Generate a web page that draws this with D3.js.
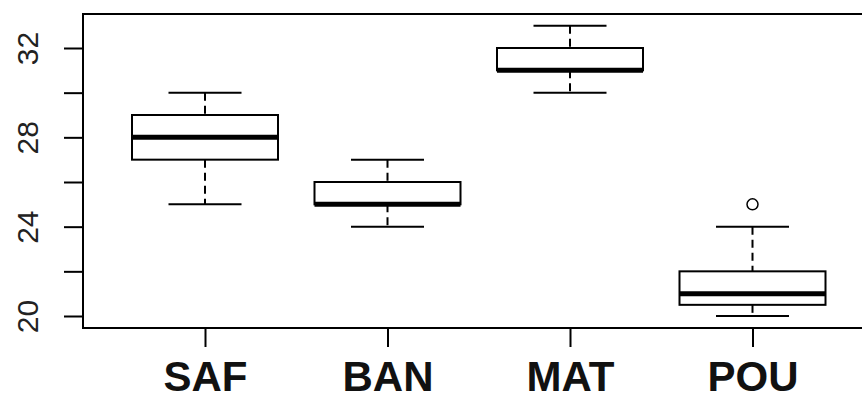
<!DOCTYPE html>
<html>
<head>
<meta charset="utf-8">
<script src="https://cdn.jsdelivr.net/npm/d3@7"></script>
<style>
  body { margin: 0; background: #fff; }
  svg { display: block; }
</style>
</head>
<body>
<svg id="chart" width="862" height="396"></svg>
<script>
// boxplot stats
var groups    = ["SAF", "BAN", "MAT", "POU"];
var whiskLow  = [25, 24, 30, 20];
var boxLow    = [27, 25, 31, 20.5];
var medians   = [28, 25, 31, 21];
var boxHigh   = [29, 26, 32, 22];
var whiskHigh = [30, 27, 33, 24];
var outliers  = [[], [], [], [25]];
var yTicks    = [20, 22, 24, 26, 28, 30, 32];
var yLabels   = [20, 24, 28, 32];

var svg = d3.select("#chart");
var plotL = 83, plotT = 14, plotB = 328, plotR = 900;

// position 1 sits at x=205, position 4 at 752.5
var x = d3.scaleLinear()
	.domain([1, 4])
	.range([205, 752.5]);
var y = d3.scaleLinear()
	.domain([20, 32])
	.range([316, 48]);

var boxHalf = 0.4 * (x(2) - x(1));
var capHalf = boxHalf / 2;

var data = groups.map(function(g, i){
	return {name: g, pos: i + 1, lo: whiskLow[i], q1: boxLow[i], med: medians[i],
		q3: boxHigh[i], hi: whiskHigh[i], out: outliers[i]};
});

// frame
svg.append("rect")
	.attr("x", plotL).attr("y", plotT)
	.attr("width", plotR - plotL).attr("height", plotB - plotT)
	.attr("fill", "none").attr("stroke", "#000").attr("stroke-width", 2);

// axes
var yAxis = svg.append("g")
	.attr("transform", "translate(" + plotL + ",0)")
	.call(d3.axisLeft(y).tickValues(yTicks).tickSize(19)
		.tickFormat(function(d){ return yLabels.indexOf(d) >= 0 ? d : ""; }));
yAxis.select(".domain").remove();
yAxis.selectAll(".tick line").attr("stroke-width", 2);
yAxis.selectAll(".tick text")
	.attr("x", 0).attr("y", 0).attr("dy", null)
	.attr("transform", "translate(-45,0) rotate(-90)")
	.attr("text-anchor", "middle")
	.style("font-family", "Liberation Sans, Arial, sans-serif")
	.style("font-size", "30px")
	.style("fill", "#222");

var xAxis = svg.append("g")
	.attr("transform", "translate(0," + plotB + ")")
	.call(d3.axisBottom(x).tickValues([1, 2, 3, 4]).tickSize(19)
		.tickFormat(function(d){ return groups[d - 1]; }));
xAxis.select(".domain").remove();
xAxis.selectAll(".tick line").attr("stroke-width", 2);
xAxis.selectAll(".tick text")
	.attr("y", 0).attr("dy", null)
	.attr("transform", "translate(0,63)")
	.style("font-family", "Liberation Sans, Arial, sans-serif")
	.style("font-size", "42px")
	.style("font-weight", "bold")
	.style("fill", "#111");

var boxes = svg.selectAll("g.box")
	.data(data)
	.enter()
		.append("g")
		.attr("class", "box");

// dashed whiskers
boxes.append("line")
	.attr("x1", function(d){ return x(d.pos); })
	.attr("x2", function(d){ return x(d.pos); })
	.attr("y1", function(d){ return y(d.hi); })
	.attr("y2", function(d){ return y(d.q3); })
	.attr("stroke", "#000").attr("stroke-width", 2)
	.attr("stroke-dasharray", "8,5");
boxes.append("line")
	.attr("x1", function(d){ return x(d.pos); })
	.attr("x2", function(d){ return x(d.pos); })
	.attr("y1", function(d){ return y(d.q1); })
	.attr("y2", function(d){ return y(d.lo); })
	.attr("stroke", "#000").attr("stroke-width", 2)
	.attr("stroke-dasharray", "8,5");

// caps
["hi", "lo"].forEach(function(k){
	boxes.append("line")
		.attr("x1", function(d){ return x(d.pos) - capHalf; })
		.attr("x2", function(d){ return x(d.pos) + capHalf; })
		.attr("y1", function(d){ return y(d[k]); })
		.attr("y2", function(d){ return y(d[k]); })
		.attr("stroke", "#000").attr("stroke-width", 2);
});

// box
boxes.append("rect")
	.attr("x", function(d){ return x(d.pos) - boxHalf; })
	.attr("y", function(d){ return y(d.q3); })
	.attr("width", boxHalf * 2)
	.attr("height", function(d){ return y(d.q1) - y(d.q3); })
	.attr("fill", "#fff").attr("stroke", "#000").attr("stroke-width", 2);

// median
boxes.append("line")
	.attr("x1", function(d){ return x(d.pos) - boxHalf; })
	.attr("x2", function(d){ return x(d.pos) + boxHalf; })
	.attr("y1", function(d){ return y(d.med); })
	.attr("y2", function(d){ return y(d.med); })
	.attr("stroke", "#000").attr("stroke-width", 5);

// outliers
boxes.selectAll("circle")
	.data(function(d){ return d.out.map(function(v){ return {pos: d.pos, v: v}; }); })
	.enter()
		.append("circle")
		.attr("cx", function(d){ return x(d.pos); })
		.attr("cy", function(d){ return y(d.v); })
		.attr("r", 5.5)
		.attr("fill", "none").attr("stroke", "#000").attr("stroke-width", 1.5);
</script>
</body>
</html>
